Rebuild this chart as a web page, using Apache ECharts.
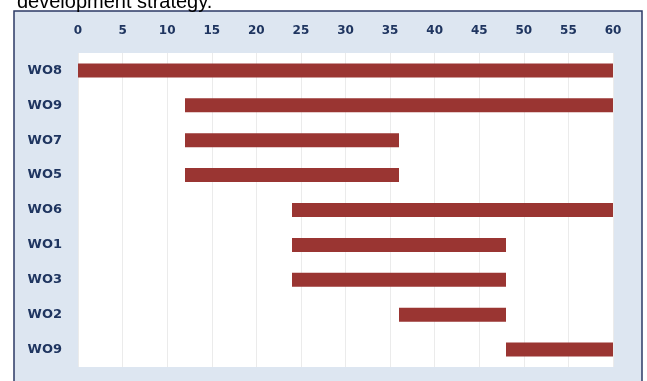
<!DOCTYPE html>
<html lang="en">
<head>
    <meta charset="UTF-8">
    <title>WO schedule</title>
    <script type="text/javascript" src="https://cdn.jsdelivr.net/npm/echarts@6/dist/echarts.min.js"></script>
    <style>
        html, body { margin: 0; padding: 0; background: #fff; }
        #main { width: 647px; height: 381px; }
    </style>
</head>
<body>
<div id="main"></div>
<script>
    // rows, top to bottom
    var categories = ['WO8', 'WO9', 'WO7', 'WO5', 'WO6', 'WO1', 'WO3', 'WO2', 'WO9'];
    var starts = [0, 12, 12, 12, 24, 24, 24, 36, 48];
    var ends = [60, 60, 36, 36, 60, 48, 48, 48, 60];
    var tickValues = [0, 5, 10, 15, 20, 25, 30, 35, 40, 45, 50, 55, 60];

    var navy = '#1f3560';
    var durations = ends.map(function (e, i) { return e - starts[i]; });

    var chart = echarts.init(document.getElementById('main'));
    var option = {
        animation: false,
        backgroundColor: '#fff',
        graphic: [
            {
                type: 'rect', z: -10,
                shape: { x: 14, y: 11, width: 628, height: 380 },
                style: { fill: '#dde6f1', stroke: '#2c3a66', lineWidth: 1.5 }
            },
            {
                type: 'text', z: 10,
                left: 17, top: -8,
                style: {
                    text: 'development strategy.',
                    fill: '#000',
                    font: '20px "Liberation Sans", Arial, sans-serif'
                }
            }
        ],
        grid: {
            left: 78, top: 53, right: 34, bottom: 14,
            show: true, backgroundColor: '#fff', borderWidth: 0
        },
        xAxis: {
            type: 'value',
            position: 'top',
            min: 0, max: 60, interval: 5,
            axisLine: { show: false },
            axisTick: { show: false },
            axisLabel: {
                margin: 16,
                color: navy,
                fontWeight: 'bold',
                fontSize: 12,
                fontFamily: '"DejaVu Sans", sans-serif',
                customValues: tickValues
            },
            splitLine: { lineStyle: { color: '#ebebeb', width: 1 } }
        },
        yAxis: {
            type: 'category',
            inverse: true,
            data: categories,
            axisLine: { show: false },
            axisTick: { show: false },
            axisLabel: {
                margin: 16,
                color: navy,
                fontWeight: 'bold',
                fontSize: 13,
                fontFamily: '"DejaVu Sans", sans-serif'
            }
        },
        series: [
            {
                type: 'bar',
                stack: 'gantt',
                data: starts,
                barWidth: 14,
                itemStyle: { color: 'transparent' },
                silent: true
            },
            {
                type: 'bar',
                stack: 'gantt',
                data: durations,
                barWidth: 14,
                itemStyle: { color: '#9a3532' }
            }
        ]
    };
    chart.setOption(option);
</script>
</body>
</html>
